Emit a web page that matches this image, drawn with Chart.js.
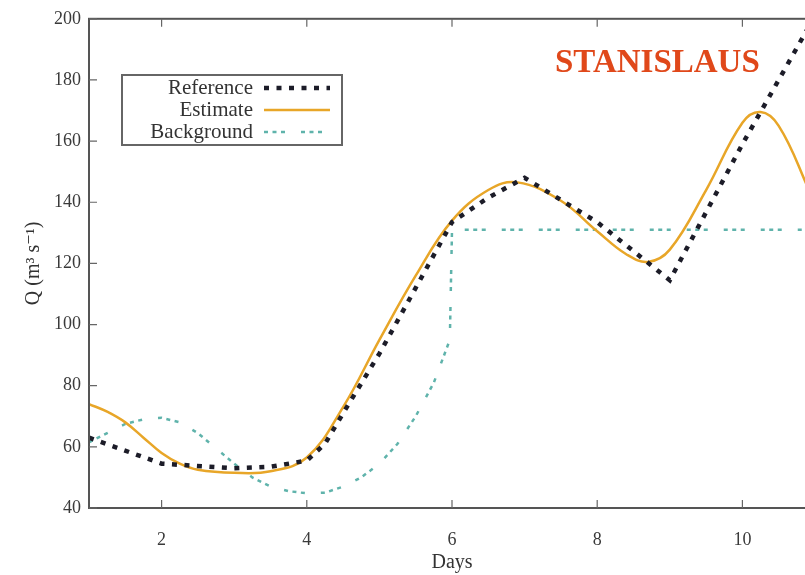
<!DOCTYPE html>
<html>
<head>
<meta charset="utf-8">
<title>Stanislaus</title>
<script src="https://cdn.jsdelivr.net/npm/chart.js@4.4.1/dist/chart.umd.min.js"></script>
<style>
  html, body { margin: 0; padding: 0; background: #fff; overflow: hidden; }
  #wrap { width: 805px; height: 575px; overflow: hidden; }
</style>
</head>
<body>
<div id="wrap"><canvas id="chart" width="816" height="575"></canvas></div>
<script>
// valores
const refDays = [1, 2, 3, 3.5, 4, 4.25, 4.5, 5, 5.5, 6, 6.5, 7, 8, 9, 10, 11];
const refQ    = [63, 54.5, 53, 53.5, 55.5, 61, 71, 90.5, 112, 133.5, 141.5, 148, 133.5, 114.5, 159, 201];

const estDays = [1, 1.25, 1.5, 1.75, 2, 2.25, 2.5, 3, 3.5, 4, 4.5, 5, 5.5, 6, 6.5, 6.9, 7.5, 8, 8.4, 8.7, 9, 9.5, 10, 10.25, 10.5, 10.88, 11];
const estQ    = [74, 71.5, 68, 63, 58, 54.5, 52.5, 51.5, 52, 56.5, 73, 95, 116, 134, 144, 146.5, 140.5, 130.5, 123, 120.5, 124.5, 144, 166, 169.5, 165, 146, 138];

const bgDays = [1, 1.25, 1.5, 1.75, 2, 2.25, 2.5, 2.75, 3, 3.25, 3.5, 3.75, 4, 4.25, 4.5, 4.75, 5, 5.25, 5.5, 5.75, 5.97, 6, 11];
const bgQ    = [61.5, 64.5, 67.5, 69, 69.5, 68, 64.5, 59.5, 54.5, 50, 47, 45.5, 44.8, 45, 47, 50, 54.5, 61, 70, 81, 95, 131, 131];

const xTicks = [2, 4, 6, 8, 10];
const yTicks = [40, 60, 80, 100, 120, 140, 160, 180, 200];

const serif = '"Liberation Serif", "DejaVu Serif", serif';

function pts(xs, ys) { return xs.map((x, i) => ({ x: x, y: ys[i] })); }

// moldura com marcas para dentro (estilo gnuplot), legenda e título
const framePlugin = {
  id: 'frame',
  afterDatasetsDraw(chart) {
    const { ctx, chartArea: a, scales } = chart;
    ctx.save();
    ctx.strokeStyle = '#555';
    ctx.lineWidth = 2;
    ctx.strokeRect(a.left, a.top, a.right - a.left, a.bottom - a.top);
    ctx.lineWidth = 1.2;
    ctx.strokeStyle = '#666';
    const tl = 8;
    scales.x.ticks.forEach(t => {
      const px = scales.x.getPixelForValue(t.value);
      ctx.beginPath();
      ctx.moveTo(px, a.bottom); ctx.lineTo(px, a.bottom - tl);
      ctx.moveTo(px, a.top); ctx.lineTo(px, a.top + tl);
      ctx.stroke();
    });
    scales.y.ticks.forEach(t => {
      const py = scales.y.getPixelForValue(t.value);
      ctx.beginPath();
      ctx.moveTo(a.left, py); ctx.lineTo(a.left + tl, py);
      ctx.moveTo(a.right, py); ctx.lineTo(a.right - tl, py);
      ctx.stroke();
    });

    // legenda
    ctx.fillStyle = '#fff';
    ctx.fillRect(122, 75, 220, 70);
    ctx.strokeStyle = '#666';
    ctx.lineWidth = 2;
    ctx.strokeRect(122, 75, 220, 70);
    ctx.font = '21px ' + serif;
    ctx.textAlign = 'right';
    ctx.textBaseline = 'middle';
    const rows = [88, 110, 132];
    chart.data.datasets.forEach((ds, i) => {
      const y = rows[i];
      ctx.fillStyle = '#333';
      ctx.fillText(ds.label, 253, y);
      ctx.beginPath();
      ctx.strokeStyle = ds.borderColor;
      ctx.lineWidth = ds.borderWidth;
      ctx.setLineDash(ds.borderDash || []);
      ctx.moveTo(264, y); ctx.lineTo(330, y);
      ctx.stroke();
      ctx.setLineDash([]);
    });

    // nome da estação
    ctx.font = 'bold 33px ' + serif;
    ctx.textAlign = 'left';
    ctx.textBaseline = 'alphabetic';
    ctx.fillStyle = '#e0481a';
    ctx.fillText('STANISLAUS', 555, 72);
    ctx.restore();
  }
};

const ctx = document.getElementById('chart').getContext('2d');
new Chart(ctx, {
  type: 'scatter',
  data: {
    datasets: [
      { label: 'Reference', data: pts(refDays, refQ), showLine: true, borderColor: '#1c1c28',
        borderWidth: 4.5, borderDash: [5, 7.5], borderCapStyle: 'butt', pointRadius: 0, tension: 0 },
      { label: 'Estimate', data: pts(estDays, estQ), showLine: true, borderColor: '#e8a628',
        borderWidth: 2.5, pointRadius: 0, tension: 0.4 },
      { label: 'Background', data: pts(bgDays, bgQ), showLine: true, borderColor: '#5fb3ab',
        borderWidth: 2.5, borderDash: [4, 4.5, 4, 4.5, 4, 16], pointRadius: 0, tension: 0 }
    ]
  },
  options: {
    responsive: false,
    animation: false,
    layout: { padding: { top: 14, right: 1, left: 0, bottom: 0 } },
    plugins: { legend: { display: false }, tooltip: { enabled: false } },
    scales: {
      x: {
        type: 'linear', min: 1, max: 11,
        afterBuildTicks: s => { s.ticks = xTicks.map(v => ({ value: v })); },
        afterFit: s => { s.height = 67; },
        grid: { display: false, drawTicks: false },
        border: { display: false },
        ticks: { color: '#3a3a3a', padding: 21, font: { family: serif, size: 18 } },
        title: { display: true, text: 'Days', color: '#333', padding: { top: 0, bottom: 0 }, font: { family: serif, size: 20 } }
      },
      y: {
        type: 'linear', min: 40, max: 200,
        afterBuildTicks: s => { s.ticks = yTicks.map(v => ({ value: v })); },
        afterFit: s => { s.width = 89; },
        grid: { display: false, drawTicks: false },
        border: { display: false },
        ticks: { color: '#3a3a3a', padding: 8, font: { family: serif, size: 18 } },
        title: { display: true, text: 'Q (m³ s⁻¹)', color: '#333', padding: { bottom: 0, top: 22 }, font: { family: serif, size: 20 } }
      }
    }
  },
  plugins: [framePlugin]
});
</script>
</body>
</html>
